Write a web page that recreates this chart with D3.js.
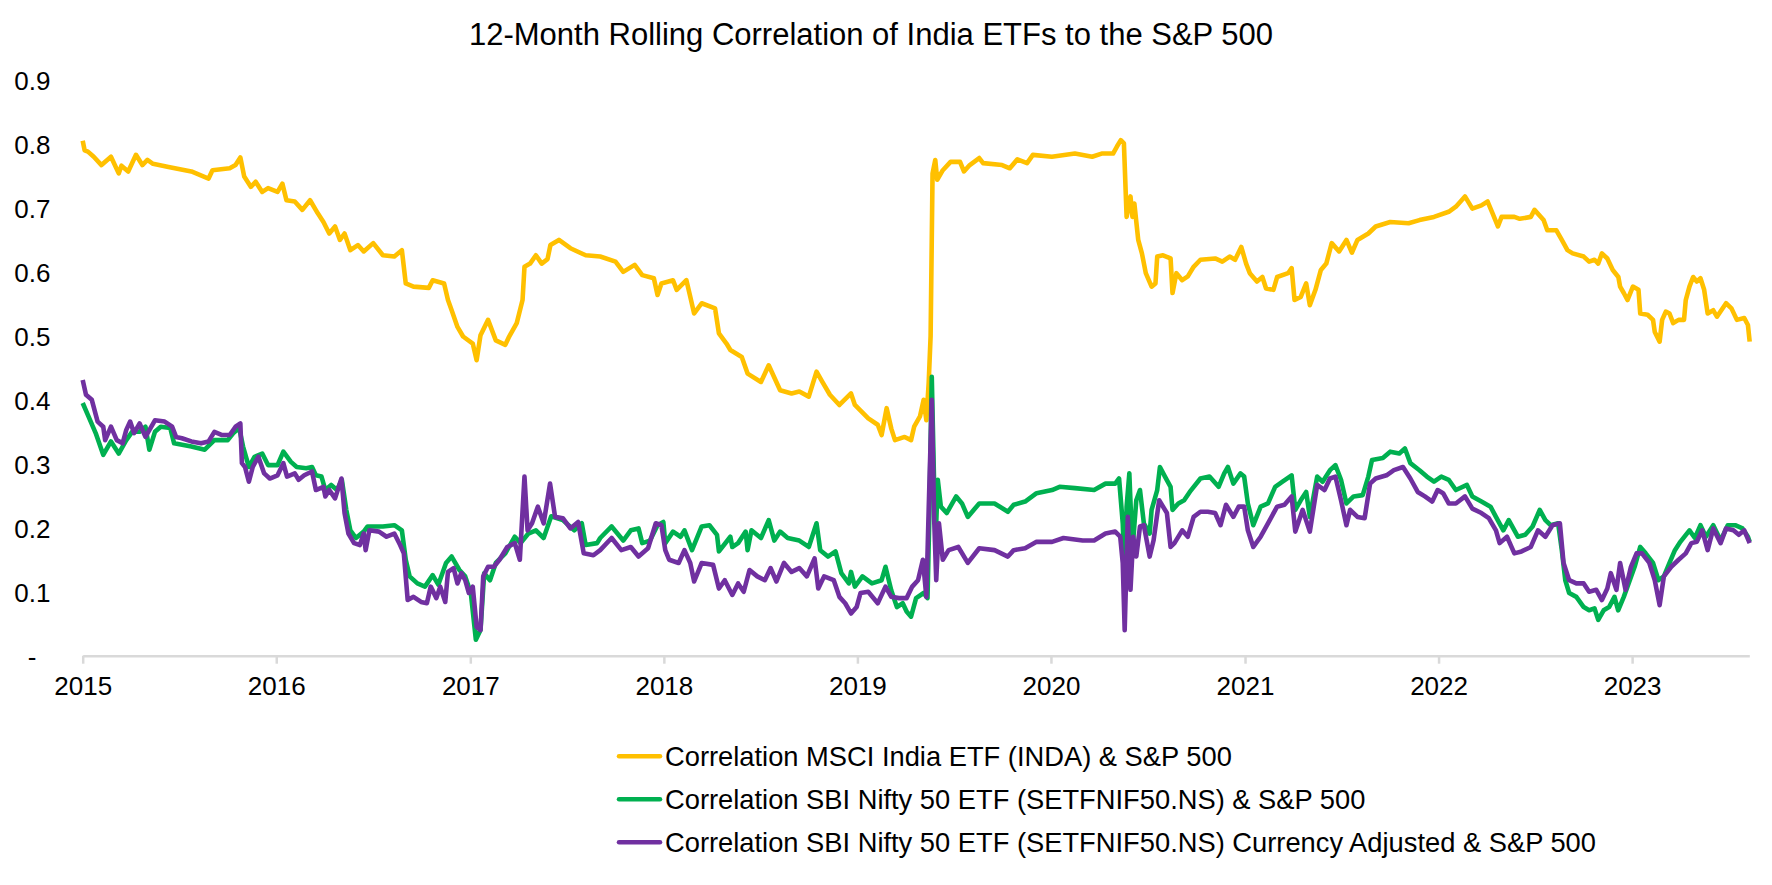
<!DOCTYPE html>
<html>
<head>
<meta charset="utf-8">
<script src="https://cdn.jsdelivr.net/npm/d3@7"></script>
<style>
  body { margin: 0; background: #ffffff; }
  svg { display: block; }
  text { font-family: "Liberation Sans", Arial, sans-serif; fill: #000; }
</style>
</head>
<body>
<svg id="chart" width="1772" height="885"></svg>
<script>
// ---------------- DATA ----------------
const chartTitle = "12-Month Rolling Correlation of India ETFs to the S&P 500";
const seriesNames = [
  "Correlation MSCI India ETF (INDA) & S&P 500",
  "Correlation SBI Nifty 50 ETF (SETFNIF50.NS) & S&P 500",
  "Correlation SBI Nifty 50 ETF (SETFNIF50.NS) Currency Adjusted & S&P 500"
];
const seriesColors = ["#FFC000", "#00B050", "#7030A0"];
const xTickYears = [2015, 2016, 2017, 2018, 2019, 2020, 2021, 2022, 2023];
const yTickValues = [0, 0.1, 0.2, 0.3, 0.4, 0.5, 0.6, 0.7, 0.8, 0.9];
const yTickLabels = ["-", "0.1", "0.2", "0.3", "0.4", "0.5", "0.6", "0.7", "0.8", "0.9"];
const startDate = "2015-01-01";
const endDate = "2023-08-10";

// time positions are years elapsed since 1 Jan 2015
const indaT = [0.000,0.010,0.027,0.057,0.097,0.146,0.186,0.200,0.235,0.275,0.308,0.334,0.363,0.443,0.561,0.650,0.670,0.759,0.789,0.814,0.834,0.868,0.893,0.927,0.957,1.006,1.031,1.052,1.095,1.134,1.174,1.213,1.243,1.273,1.303,1.328,1.352,1.382,1.421,1.451,1.500,1.550,1.609,1.648,1.668,1.708,1.787,1.807,1.866,1.886,1.905,1.935,1.964,2.014,2.034,2.054,2.093,2.133,2.182,2.202,2.241,2.271,2.281,2.310,2.340,2.370,2.400,2.415,2.459,2.518,2.597,2.672,2.751,2.791,2.850,2.889,2.949,2.968,2.988,3.048,3.067,3.117,3.137,3.157,3.196,3.265,3.285,3.324,3.344,3.403,3.433,3.502,3.542,3.601,3.660,3.700,3.749,3.789,3.819,3.858,3.907,3.967,3.987,4.056,4.105,4.125,4.151,4.175,4.194,4.244,4.277,4.293,4.323,4.342,4.356,4.368,4.378,4.388,4.402,4.412,4.441,4.481,4.530,4.550,4.580,4.629,4.649,4.747,4.787,4.826,4.876,4.906,5.004,5.123,5.212,5.261,5.320,5.340,5.360,5.376,5.390,5.410,5.420,5.430,5.450,5.469,5.489,5.519,5.539,5.548,5.578,5.617,5.627,5.647,5.677,5.706,5.736,5.771,5.847,5.884,5.922,5.950,5.982,6.007,6.026,6.063,6.091,6.110,6.148,6.167,6.224,6.242,6.257,6.289,6.317,6.336,6.365,6.393,6.421,6.449,6.487,6.525,6.553,6.582,6.638,6.676,6.751,6.846,6.902,6.977,7.053,7.090,7.137,7.175,7.222,7.254,7.279,7.307,7.326,7.392,7.420,7.477,7.496,7.543,7.562,7.609,7.637,7.666,7.693,7.750,7.778,7.806,7.825,7.844,7.872,7.900,7.929,7.938,7.957,7.976,8.004,8.033,8.042,8.080,8.108,8.117,8.142,8.155,8.174,8.193,8.212,8.240,8.268,8.277,8.296,8.315,8.334,8.353,8.372,8.390,8.419,8.438,8.485,8.513,8.541,8.579,8.598,8.607];
const indaV = [0.805,0.790,0.788,0.780,0.767,0.780,0.754,0.766,0.757,0.783,0.767,0.775,0.769,0.764,0.757,0.746,0.759,0.762,0.767,0.779,0.749,0.733,0.741,0.725,0.731,0.725,0.738,0.712,0.710,0.697,0.712,0.692,0.678,0.660,0.671,0.650,0.660,0.634,0.642,0.632,0.645,0.626,0.624,0.634,0.582,0.577,0.575,0.587,0.582,0.556,0.540,0.514,0.499,0.488,0.462,0.501,0.525,0.493,0.486,0.499,0.520,0.556,0.608,0.613,0.626,0.613,0.620,0.642,0.650,0.637,0.626,0.624,0.616,0.600,0.611,0.595,0.590,0.564,0.582,0.587,0.572,0.587,0.561,0.535,0.551,0.543,0.504,0.488,0.478,0.467,0.441,0.428,0.454,0.415,0.410,0.413,0.405,0.444,0.428,0.408,0.392,0.410,0.392,0.371,0.361,0.345,0.387,0.355,0.337,0.342,0.337,0.358,0.374,0.400,0.368,0.426,0.500,0.754,0.775,0.744,0.759,0.772,0.772,0.757,0.767,0.778,0.770,0.767,0.762,0.776,0.770,0.783,0.780,0.785,0.780,0.785,0.785,0.796,0.806,0.801,0.686,0.718,0.686,0.707,0.650,0.629,0.598,0.577,0.582,0.624,0.626,0.621,0.567,0.598,0.587,0.593,0.608,0.619,0.621,0.616,0.624,0.619,0.639,0.613,0.598,0.585,0.592,0.574,0.572,0.592,0.598,0.606,0.556,0.561,0.582,0.548,0.572,0.603,0.613,0.645,0.632,0.650,0.630,0.650,0.660,0.671,0.678,0.676,0.681,0.686,0.694,0.702,0.718,0.699,0.704,0.710,0.692,0.671,0.686,0.686,0.683,0.686,0.697,0.681,0.665,0.665,0.650,0.634,0.629,0.624,0.616,0.619,0.613,0.629,0.621,0.603,0.592,0.577,0.567,0.556,0.577,0.572,0.535,0.533,0.525,0.506,0.491,0.525,0.538,0.535,0.520,0.525,0.525,0.556,0.577,0.592,0.585,0.590,0.572,0.535,0.540,0.530,0.551,0.543,0.525,0.528,0.517,0.491];

const niftyT = [0.000,0.027,0.067,0.106,0.146,0.186,0.225,0.255,0.294,0.324,0.344,0.373,0.403,0.452,0.472,0.561,0.630,0.680,0.749,0.778,0.808,0.828,0.858,0.887,0.927,0.957,1.006,1.036,1.075,1.105,1.154,1.184,1.204,1.233,1.253,1.283,1.313,1.338,1.361,1.382,1.411,1.451,1.471,1.550,1.609,1.648,1.668,1.688,1.728,1.767,1.807,1.836,1.876,1.905,1.945,1.975,2.004,2.030,2.054,2.073,2.103,2.133,2.182,2.231,2.261,2.301,2.340,2.380,2.419,2.479,2.538,2.577,2.597,2.656,2.672,2.731,2.791,2.830,2.870,2.889,2.929,2.968,2.998,3.008,3.048,3.087,3.107,3.146,3.196,3.236,3.275,3.285,3.344,3.354,3.384,3.423,3.433,3.453,3.502,3.542,3.571,3.601,3.640,3.700,3.749,3.789,3.808,3.848,3.887,3.917,3.956,3.967,3.987,4.026,4.075,4.125,4.145,4.175,4.204,4.234,4.254,4.277,4.303,4.342,4.362,4.372,4.384,4.396,4.407,4.415,4.431,4.461,4.510,4.540,4.570,4.629,4.708,4.777,4.807,4.866,4.925,5.005,5.044,5.123,5.222,5.281,5.331,5.351,5.370,5.380,5.390,5.404,5.420,5.440,5.459,5.479,5.509,5.519,5.548,5.562,5.588,5.617,5.627,5.657,5.687,5.716,5.771,5.818,5.865,5.894,5.913,5.941,5.978,5.997,6.016,6.044,6.082,6.120,6.157,6.195,6.242,6.261,6.289,6.317,6.336,6.374,6.402,6.440,6.468,6.497,6.525,6.562,6.609,6.638,6.657,6.713,6.751,6.798,6.827,6.855,6.902,6.940,6.977,7.015,7.053,7.090,7.147,7.175,7.222,7.269,7.297,7.335,7.363,7.410,7.448,7.486,7.523,7.552,7.580,7.618,7.637,7.655,7.675,7.712,7.750,7.778,7.806,7.825,7.853,7.881,7.909,7.928,7.957,7.976,8.013,8.042,8.070,8.108,8.136,8.164,8.193,8.221,8.249,8.296,8.324,8.353,8.381,8.419,8.457,8.494,8.532,8.570,8.598,8.607];
const niftyV = [0.395,0.376,0.348,0.314,0.335,0.316,0.337,0.350,0.350,0.358,0.322,0.350,0.358,0.356,0.332,0.327,0.322,0.337,0.337,0.348,0.356,0.327,0.295,0.311,0.316,0.298,0.298,0.319,0.303,0.295,0.293,0.295,0.282,0.280,0.259,0.267,0.259,0.275,0.228,0.196,0.184,0.194,0.202,0.202,0.204,0.196,0.150,0.124,0.113,0.108,0.126,0.111,0.145,0.155,0.134,0.124,0.098,0.025,0.040,0.129,0.118,0.145,0.160,0.186,0.176,0.191,0.196,0.184,0.218,0.212,0.196,0.207,0.173,0.176,0.184,0.202,0.180,0.196,0.199,0.176,0.180,0.204,0.209,0.176,0.194,0.186,0.196,0.165,0.202,0.204,0.189,0.163,0.186,0.170,0.176,0.194,0.165,0.196,0.184,0.212,0.180,0.194,0.184,0.180,0.170,0.207,0.165,0.155,0.163,0.129,0.113,0.131,0.108,0.124,0.113,0.118,0.139,0.102,0.076,0.082,0.069,0.061,0.090,0.098,0.090,0.228,0.436,0.269,0.207,0.275,0.233,0.223,0.249,0.238,0.217,0.238,0.238,0.225,0.236,0.241,0.254,0.259,0.264,0.262,0.259,0.269,0.269,0.277,0.207,0.124,0.233,0.285,0.165,0.243,0.259,0.207,0.191,0.228,0.259,0.295,0.280,0.264,0.228,0.238,0.243,0.256,0.277,0.280,0.264,0.285,0.295,0.269,0.285,0.280,0.238,0.204,0.233,0.238,0.264,0.272,0.282,0.228,0.243,0.256,0.217,0.280,0.272,0.290,0.298,0.275,0.238,0.249,0.251,0.280,0.306,0.309,0.319,0.316,0.324,0.301,0.290,0.280,0.272,0.280,0.275,0.259,0.267,0.249,0.241,0.233,0.217,0.196,0.212,0.186,0.189,0.202,0.228,0.212,0.204,0.207,0.165,0.118,0.098,0.092,0.076,0.071,0.074,0.056,0.071,0.076,0.092,0.071,0.092,0.108,0.139,0.170,0.160,0.145,0.118,0.124,0.145,0.165,0.178,0.196,0.184,0.204,0.186,0.204,0.180,0.204,0.204,0.199,0.186,0.178];

const niftyFxT = [0.000,0.017,0.047,0.077,0.106,0.116,0.146,0.176,0.206,0.225,0.245,0.265,0.294,0.324,0.373,0.423,0.462,0.482,0.512,0.561,0.611,0.650,0.680,0.720,0.759,0.789,0.814,0.822,0.838,0.858,0.878,0.907,0.937,0.966,1.006,1.036,1.055,1.095,1.115,1.144,1.184,1.204,1.243,1.253,1.273,1.303,1.336,1.352,1.372,1.401,1.431,1.451,1.461,1.480,1.530,1.569,1.609,1.639,1.658,1.678,1.708,1.747,1.777,1.797,1.826,1.846,1.872,1.886,1.915,1.935,1.955,1.975,1.994,2.014,2.034,2.054,2.068,2.093,2.123,2.152,2.192,2.231,2.257,2.281,2.297,2.320,2.350,2.380,2.413,2.439,2.479,2.518,2.558,2.587,2.637,2.672,2.731,2.781,2.830,2.870,2.919,2.959,2.988,3.008,3.028,3.077,3.107,3.137,3.157,3.196,3.255,3.285,3.315,3.354,3.384,3.413,3.443,3.483,3.522,3.552,3.582,3.621,3.660,3.700,3.739,3.779,3.798,3.828,3.878,3.907,3.937,3.967,3.996,4.016,4.056,4.105,4.145,4.175,4.214,4.254,4.283,4.313,4.338,4.356,4.368,4.384,4.396,4.407,4.421,4.441,4.471,4.521,4.570,4.629,4.708,4.777,4.807,4.866,4.925,5.005,5.064,5.163,5.222,5.281,5.331,5.357,5.370,5.380,5.396,5.410,5.424,5.440,5.459,5.479,5.509,5.529,5.558,5.598,5.617,5.637,5.677,5.706,5.736,5.771,5.809,5.847,5.875,5.903,5.941,5.969,5.997,6.016,6.044,6.082,6.120,6.167,6.205,6.242,6.261,6.299,6.336,6.374,6.412,6.440,6.468,6.497,6.525,6.544,6.582,6.619,6.647,6.676,6.732,6.770,6.817,6.855,6.893,6.930,6.968,6.996,7.024,7.053,7.090,7.137,7.175,7.222,7.260,7.297,7.316,7.354,7.392,7.429,7.477,7.514,7.552,7.589,7.627,7.646,7.675,7.712,7.750,7.778,7.815,7.844,7.872,7.890,7.919,7.938,7.966,7.994,8.023,8.051,8.089,8.117,8.142,8.164,8.202,8.240,8.277,8.306,8.334,8.362,8.390,8.419,8.457,8.485,8.523,8.551,8.579,8.607];
const niftyFxV = [0.431,0.408,0.400,0.366,0.358,0.337,0.358,0.337,0.332,0.353,0.366,0.348,0.363,0.342,0.368,0.366,0.358,0.342,0.340,0.335,0.332,0.335,0.350,0.345,0.345,0.358,0.363,0.301,0.295,0.272,0.295,0.311,0.285,0.277,0.282,0.301,0.280,0.285,0.275,0.282,0.288,0.259,0.264,0.249,0.259,0.246,0.277,0.223,0.191,0.176,0.173,0.191,0.165,0.196,0.194,0.186,0.191,0.173,0.160,0.087,0.092,0.084,0.082,0.108,0.090,0.108,0.084,0.131,0.137,0.113,0.129,0.118,0.098,0.108,0.045,0.040,0.124,0.139,0.139,0.150,0.170,0.176,0.150,0.280,0.196,0.207,0.233,0.207,0.269,0.217,0.215,0.199,0.209,0.160,0.157,0.165,0.184,0.165,0.170,0.155,0.168,0.207,0.204,0.165,0.150,0.145,0.165,0.145,0.116,0.145,0.142,0.105,0.118,0.095,0.113,0.100,0.134,0.124,0.118,0.137,0.116,0.145,0.131,0.137,0.124,0.152,0.105,0.124,0.118,0.092,0.082,0.066,0.076,0.098,0.100,0.082,0.108,0.092,0.090,0.090,0.108,0.118,0.150,0.092,0.228,0.400,0.217,0.118,0.207,0.150,0.165,0.170,0.145,0.168,0.165,0.155,0.165,0.168,0.178,0.178,0.184,0.180,0.180,0.191,0.194,0.186,0.145,0.040,0.217,0.103,0.186,0.155,0.202,0.204,0.155,0.180,0.243,0.223,0.170,0.176,0.196,0.186,0.217,0.225,0.225,0.223,0.204,0.236,0.217,0.233,0.233,0.196,0.170,0.186,0.207,0.233,0.236,0.249,0.194,0.228,0.194,0.267,0.259,0.277,0.280,0.243,0.204,0.228,0.217,0.215,0.269,0.277,0.282,0.290,0.295,0.277,0.256,0.249,0.241,0.259,0.254,0.238,0.238,0.249,0.230,0.223,0.215,0.196,0.176,0.186,0.160,0.163,0.170,0.196,0.186,0.204,0.207,0.145,0.118,0.113,0.113,0.100,0.103,0.087,0.105,0.129,0.103,0.145,0.103,0.139,0.160,0.160,0.145,0.118,0.079,0.124,0.139,0.150,0.160,0.176,0.178,0.196,0.165,0.199,0.176,0.199,0.196,0.189,0.196,0.176];

// ---------------- CHART ----------------
const svg = d3.select("#chart");
const DAY = 864e5;
const t0 = new Date(startDate + "T00:00:00Z");
const toDate = t => new Date(t0.getTime() + t * 365.25 * DAY);

const x = d3.scaleUtc()
  .domain([t0, new Date(endDate + "T00:00:00Z")])
  .range([82.7, 1749.3]);
const y = d3.scaleLinear().domain([0, 0.9]).range([655.7, 80]);

// title
svg.append("text")
  .attr("x", 871).attr("y", 45)
  .attr("text-anchor", "middle")
  .style("font-size", "31px")
  .text(chartTitle);

// y axis (labels only)
const yAxis = d3.axisLeft(y)
  .tickValues(yTickValues)
  .tickFormat((d, i) => yTickLabels[i])
  .tickSize(0).tickPadding(0);
const gy = svg.append("g").attr("transform", "translate(50.5,0)").call(yAxis);
gy.select(".domain").remove();
gy.selectAll("text")
  .attr("dy", "0.36em")
  .style("font-size", "26px")
  .style("font-family", "'Liberation Sans', Arial, sans-serif")
  .attr("fill", "#000")
  .attr("x", (d) => d === 0 ? -14 : 0);

// x axis
const xAxis = d3.axisBottom(x)
  .tickValues(xTickYears.map(yr => new Date(Date.UTC(yr, 0, 1))))
  .tickFormat(d3.utcFormat("%Y"))
  .tickSize(8).tickSizeOuter(0);
const gx = svg.append("g").attr("transform", "translate(0,655.7)").call(xAxis);
gx.select(".domain").attr("stroke", "#d9d9d9").attr("stroke-width", 2.5);
gx.selectAll(".tick line").attr("stroke", "#d9d9d9").attr("stroke-width", 2.5);
gx.selectAll(".tick text")
  .attr("y", 39.3).attr("dy", null)
  .style("font-size", "26px")
  .style("font-family", "'Liberation Sans', Arial, sans-serif")
  .attr("fill", "#000");

// lines
const series = [
  { t: indaT, v: indaV },
  { t: niftyT, v: niftyV },
  { t: niftyFxT, v: niftyFxV }
];
const line = d3.line()
  .x(d => x(d.date))
  .y(d => y(d.value));
series.forEach((s, i) => {
  const pts = s.t.map((t, j) => ({ date: toDate(t), value: s.v[j] }));
  svg.append("path")
    .datum(pts)
    .attr("fill", "none")
    .attr("stroke", seriesColors[i])
    .attr("stroke-width", 4.6)
    .attr("stroke-linejoin", "round")
    .attr("d", line);
});

// legend
const legendY = [756.3, 799.3, 842.3];
const legend = svg.append("g");
seriesNames.forEach((name, i) => {
  legend.append("line")
    .attr("x1", 619).attr("x2", 660)
    .attr("y1", legendY[i]).attr("y2", legendY[i])
    .attr("stroke", seriesColors[i])
    .attr("stroke-width", 4.5)
    .attr("stroke-linecap", "round");
  legend.append("text")
    .attr("x", 665).attr("y", legendY[i] + 9.8)
    .style("font-size", "27.3px")
    .text(name);
});
</script>
</body>
</html>
